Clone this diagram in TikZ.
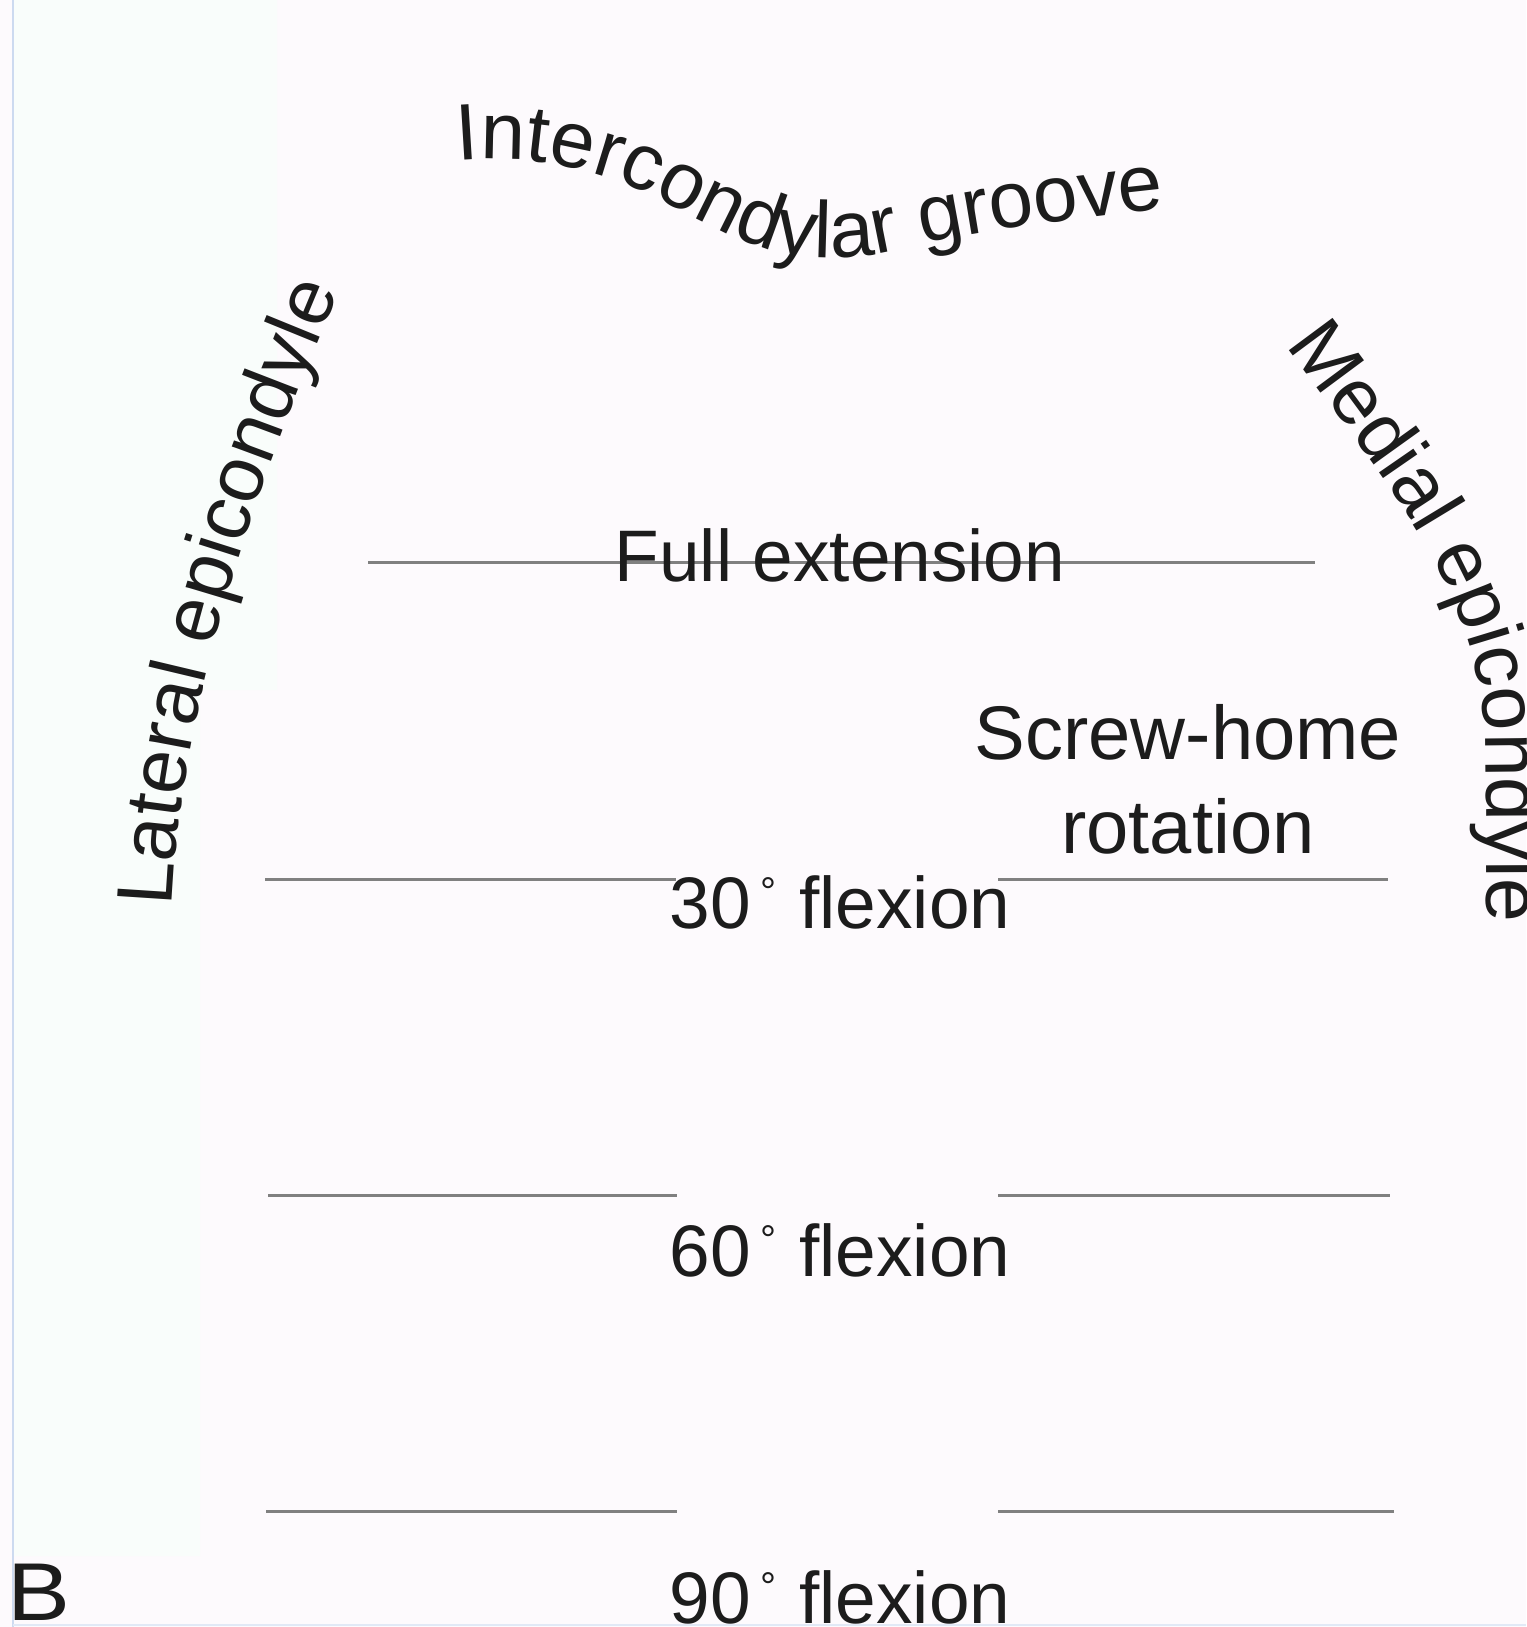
\documentclass[tikz,border=0pt]{standalone}
\usepackage{fontspec}
\setmainfont{Liberation Sans}
\usetikzlibrary{decorations.text}

\definecolor{ink}{RGB}{28,28,28}
\definecolor{rulegray}{RGB}{128,128,128}
\definecolor{paper}{RGB}{253,250,253}
\definecolor{margintint}{RGB}{249,253,251}
\definecolor{edgeblue}{RGB}{205,218,240}

% one unit = one pixel = 0.5pt
\newcommand{\labelfont}{\fontsize{36.5}{44}\selectfont}
\newcommand{\bigfont}{\fontsize{38}{46}\selectfont}
\newcommand{\arcfont}{\fontsize{39.5}{47}\selectfont}
\newcommand{\groovefont}{\fontsize{40}{48}\selectfont}
\newcommand{\degmark}{\kern5pt\raisebox{11.5pt}{\fontsize{20}{20}\selectfont °}\kern1pt}

\begin{document}
\begin{tikzpicture}[x=0.5pt,y=-0.5pt,
  level/.style={draw=rulegray, line width=1.5pt},
  lbl/.style={inner sep=0pt, anchor=base, text=ink, font=\labelfont},
  arctext/.style={decorate, decoration={text along path, text align=left, text={#1}}}
]
\useasboundingbox (0,0) rectangle (1526,1627);
\clip (0,0) rectangle (1526,1627);

% paper and the lighter left margin
\fill[paper] (0,0) rectangle (1526,1627);
\fill[margintint] (13,0) -- (277,0) -- (277,690) -- (200,690) -- (200,1556) -- (13,1556) -- cycle;
\draw[edgeblue, line width=0.75pt] (13,0) -- (13,1627);
\draw[edgeblue!60, line width=0.75pt] (13,1625) -- (1526,1625);

% level lines
\draw[level] (368,562) -- (1315,562);
\draw[level] (265,879) -- (676,879);
\draw[level] (998,879) -- (1388,879);
\draw[level] (268,1195) -- (677,1195);
\draw[level] (998,1195) -- (1390,1195);
\draw[level] (266,1511) -- (677,1511);
\draw[level] (998,1511) -- (1394,1511);

% level labels
\node[lbl] (fullext) at (840,581) {Full extension};
\node[lbl] (flex30) at (840,928) {30\degmark\ flexion};
\node[lbl] (flex60) at (840,1276) {60\degmark\ flexion};
\node[lbl] (flex90) at (840,1623) {90\degmark\ flexion};
\node[lbl, font=\bigfont] (screw) at (1188,759) {Screw-home};
\node[lbl, font=\bigfont] (rotation) at (1188,853) {rotation};
\node[lbl, anchor=base west, font=\fontsize{41}{49}\selectfont] (panel) at (7,1620) {\scalebox{1.15}[1]{B}};

% curved landmark names
\path[arctext={|\color{ink}\arcfont|Lateral epicondyle}]
  (172,907) .. controls (182,687) and (258,478) .. (365,230);
\path[arctext={|\color{ink}\groovefont|Intercondylar groove}]
  (458,161) .. controls (515,156) and (565,163) .. (615,180)
  .. controls (675,200) and (735,252) .. (810,257)
  .. controls (870,261) and (905,247) .. (940,240)
  .. controls (1025,224) and (1125,212) .. (1210,204);
\path[arctext={|\color{ink}\arcfont|Medial epicondyle}]
  (1286,345) .. controls (1400,500) and (1486,600) .. (1486,760) -- (1487,980);
\end{tikzpicture}
\end{document}
